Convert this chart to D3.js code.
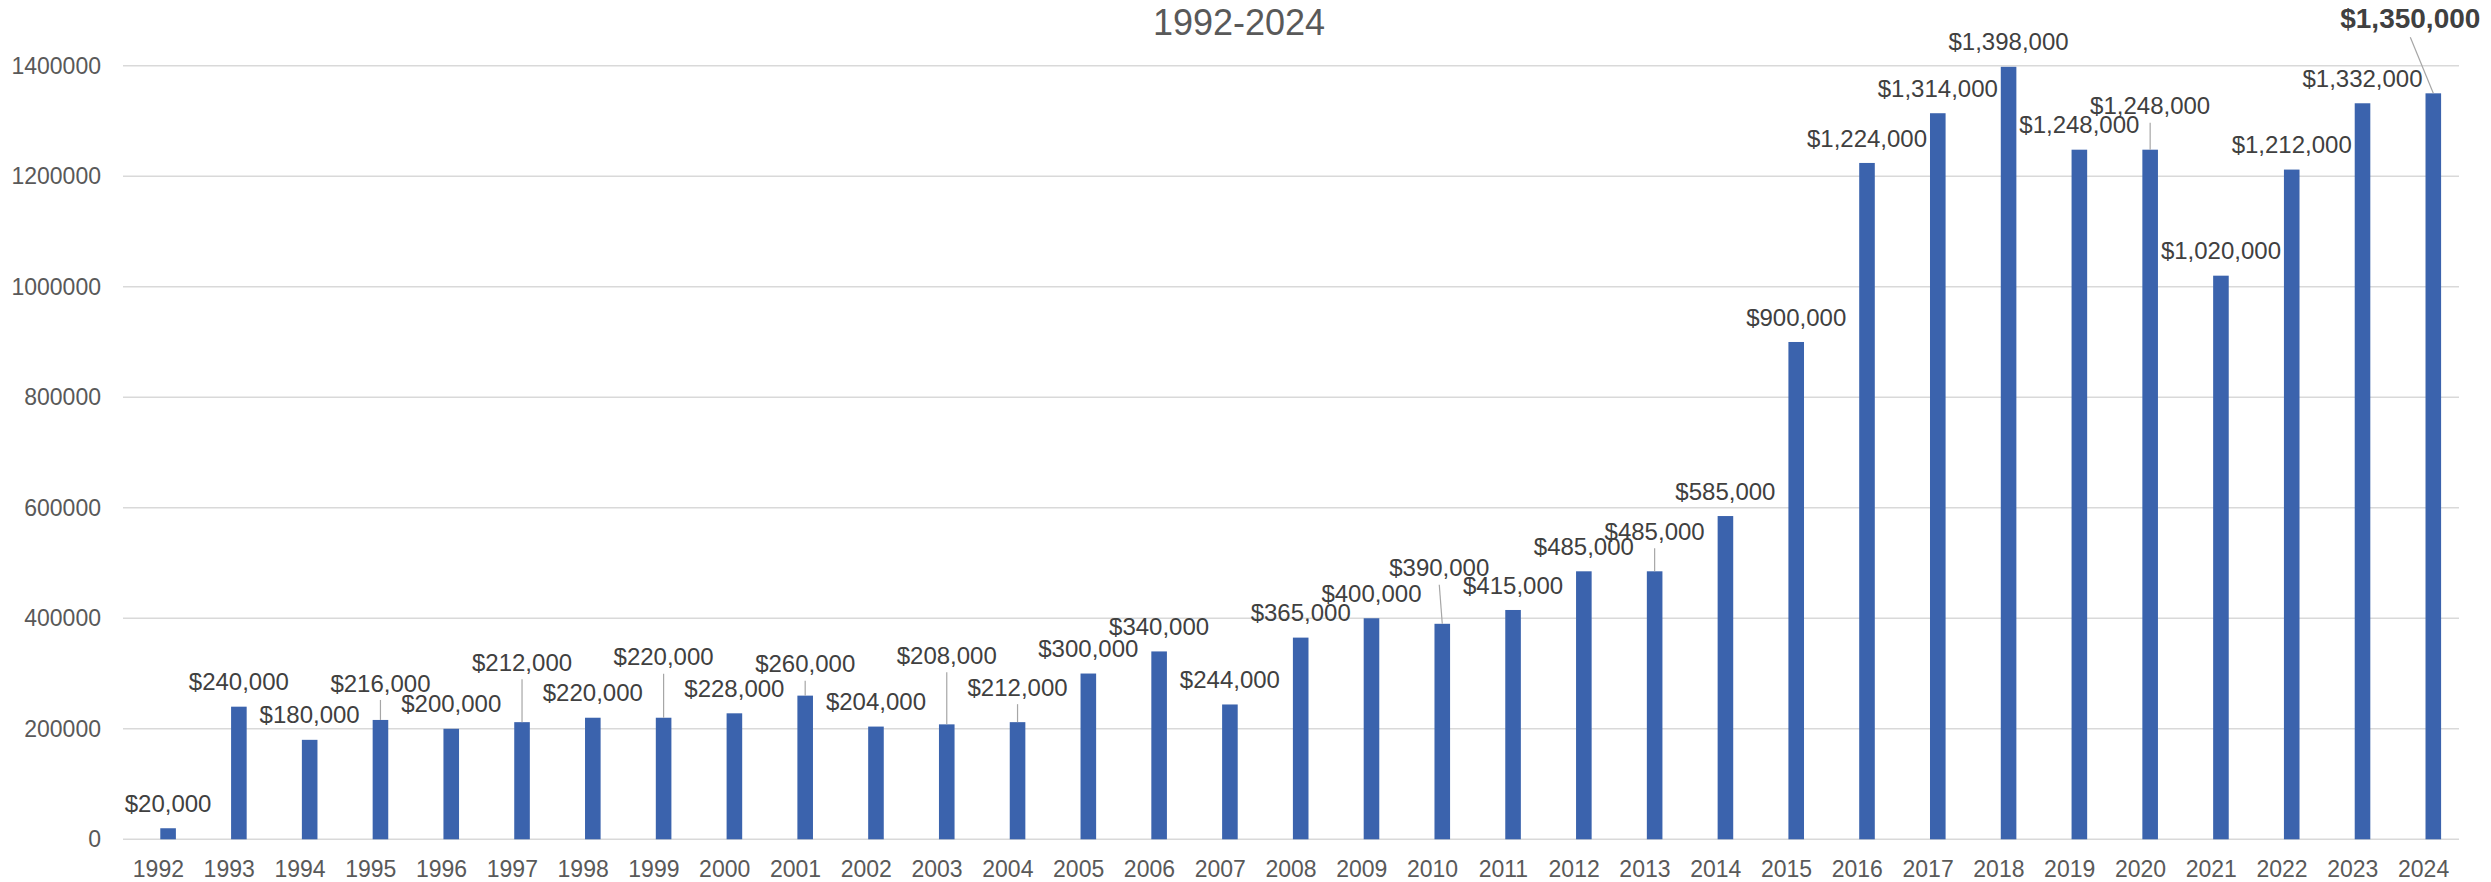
<!DOCTYPE html>
<html>
<head>
<meta charset="utf-8">
<script src="https://cdn.jsdelivr.net/npm/d3@7"></script>
<style>
  html, body { margin: 0; padding: 0; background: #fff; }
  svg text { font-family: "Liberation Sans", Arial, sans-serif; }
</style>
</head>
<body>
<div id="chart"></div>
<script>
// Data
const years = ["1992", "1993", "1994", "1995", "1996", "1997", "1998", "1999", "2000", "2001", "2002",
  "2003", "2004", "2005", "2006", "2007", "2008", "2009", "2010", "2011", "2012", "2013",
  "2014", "2015", "2016", "2017", "2018", "2019", "2020", "2021", "2022", "2023", "2024"];
const prices = [20000, 240000, 180000, 216000, 200000, 212000, 220000, 220000, 228000, 260000, 204000,
  208000, 212000, 300000, 340000, 244000, 365000, 400000, 390000, 415000, 485000, 485000,
  585000, 900000, 1224000, 1314000, 1398000, 1248000, 1248000, 1020000, 1212000, 1332000, 1350000];
const yTicks = [0, 200000, 400000, 600000, 800000, 1000000, 1200000, 1400000];
const subtitle = "1992-2024";
const highlightYear = "2024";

// Labels that were dragged away from their bar (pixel nudge), drawn with a leader line
const labelShift = {
  "1995": [0, -12], "1997": [0, -35], "1999": [0, -36], "2001": [0, -7],
  "2003": [0, -44], "2004": [0, -10], "2010": [-3, -31], "2013": [0, -15],
  "2020": [0, -19], "2024": [-23, -50]
};

const W = 2491, H = 882;
const plot = { left: 123, right: 2459, top: 65.7, bottom: 839.3 };

const svg = d3.select("#chart").append("svg")
  .attr("width", W)
  .attr("height", H);

const x = d3.scaleBand()
  .domain(years)
  .range([plot.left, plot.right])
  .padding(0);

// Two-slot cluster like the original (first slot is empty)
const xSlot = d3.scaleBand()
  .domain(["blank", "price"])
  .range([0, x.bandwidth()])
  .paddingInner(0.196)
  .paddingOuter(0.923);

const y = d3.scaleLinear()
  .domain([0, 1400000])
  .range([plot.bottom, plot.top]);

// Gridlines
svg.append("g")
  .selectAll("line")
  .data(yTicks)
  .join("line")
  .attr("x1", plot.left)
  .attr("x2", plot.right)
  .attr("y1", d => y(d))
  .attr("y2", d => y(d))
  .attr("stroke", "#d9d9d9")
  .attr("stroke-width", 1.6);

// Y axis
const yAxis = svg.append("g")
  .attr("transform", `translate(${plot.left},0)`)
  .call(d3.axisLeft(y).tickValues(yTicks).tickSize(0).tickPadding(22).tickFormat(d3.format("d")));
yAxis.select(".domain").remove();
yAxis.selectAll("text")
  .style("font-size", "23px")
  .style("font-family", "Liberation Sans, Arial, sans-serif")
  .attr("fill", "#595959");

// X axis
const xAxis = svg.append("g")
  .attr("transform", `translate(0,${plot.bottom})`)
  .call(d3.axisBottom(x).tickSize(0).tickPadding(21));
xAxis.select(".domain").remove();
xAxis.selectAll("text")
  .style("font-size", "23px")
  .style("font-family", "Liberation Sans, Arial, sans-serif")
  .attr("fill", "#595959");

const rows = years.map((yr, i) => ({ year: yr, value: prices[i] }));
const barX = d => x(d.year) + xSlot("price");
const barCx = d => barX(d) + xSlot.bandwidth() / 2;

// Bars
svg.append("g")
  .selectAll("rect")
  .data(rows)
  .join("rect")
  .attr("x", barX)
  .attr("y", d => y(d.value))
  .attr("width", xSlot.bandwidth())
  .attr("height", d => y(0) - y(d.value))
  .attr("fill", "#3b63ad");

// Data labels
const labelPos = d => {
  const s = labelShift[d.year] || [0, 0];
  return { x: barCx(d) + s[0], cy: y(d.value) - 25 + s[1], moved: !!labelShift[d.year] };
};

svg.append("g")
  .selectAll("line")
  .data(rows.filter(d => labelShift[d.year]))
  .join("line")
  .attr("x1", d => labelPos(d).x)
  .attr("y1", d => labelPos(d).cy + (d.year === highlightYear ? 19 : 17))
  .attr("x2", barCx)
  .attr("y2", d => y(d.value))
  .attr("stroke", "#a6a6a6")
  .attr("stroke-width", 1.2);

svg.append("g")
  .selectAll("text")
  .data(rows)
  .join("text")
  .attr("x", d => labelPos(d).x)
  .attr("y", d => labelPos(d).cy + (d.year === highlightYear ? 10 : 8.6))
  .attr("text-anchor", "middle")
  .style("font-size", d => d.year === highlightYear ? "28px" : "24px")
  .style("font-weight", d => d.year === highlightYear ? "bold" : "normal")
  .attr("fill", "#404040")
  .text(d => "$" + d3.format(",")(d.value));

// Title (second line; first line is cut off at the top in the original)
svg.append("text")
  .attr("x", 1239)
  .attr("y", 35)
  .attr("text-anchor", "middle")
  .style("font-size", "36px")
  .attr("fill", "#595959")
  .text(subtitle);
</script>
</body>
</html>
